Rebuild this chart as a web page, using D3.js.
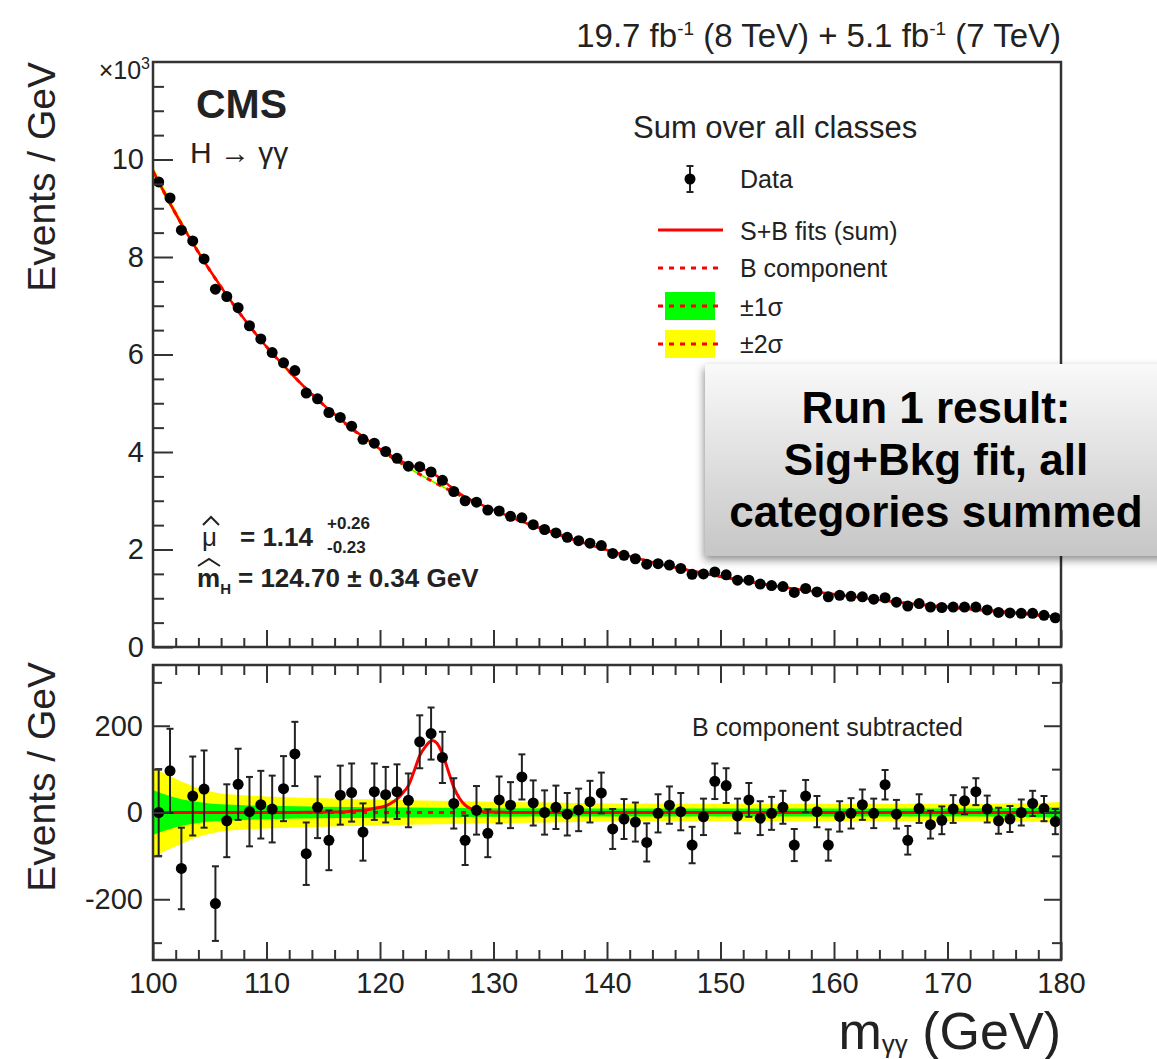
<!DOCTYPE html>
<html>
<head>
<meta charset="utf-8">
<script src="https://cdn.jsdelivr.net/npm/d3@7"></script>
<style>
  body { margin: 0; background: #fff; }
  text { font-family: "Liberation Sans", Arial, Helvetica, sans-serif; fill: #222; }
</style>
</head>
<body>
<svg id="chart" width="1157" height="1059"></svg>
<script>
// bin centres (GeV)
const massBins = [
  100.5, 101.5, 102.5, 103.5, 104.5, 105.5, 106.5, 107.5, 108.5, 109.5,
  110.5, 111.5, 112.5, 113.5, 114.5, 115.5, 116.5, 117.5, 118.5, 119.5,
  120.5, 121.5, 122.5, 123.5, 124.5, 125.5, 126.5, 127.5, 128.5, 129.5,
  130.5, 131.5, 132.5, 133.5, 134.5, 135.5, 136.5, 137.5, 138.5, 139.5,
  140.5, 141.5, 142.5, 143.5, 144.5, 145.5, 146.5, 147.5, 148.5, 149.5,
  150.5, 151.5, 152.5, 153.5, 154.5, 155.5, 156.5, 157.5, 158.5, 159.5,
  160.5, 161.5, 162.5, 163.5, 164.5, 165.5, 166.5, 167.5, 168.5, 169.5,
  170.5, 171.5, 172.5, 173.5, 174.5, 175.5, 176.5, 177.5, 178.5, 179.5
];

// data, events / GeV in units of 10^3
const dataEvents = [
  9.54, 9.21, 8.55, 8.33, 7.96, 7.34, 7.19, 6.96, 6.59, 6.32,
  6.04, 5.83, 5.67, 5.21, 5.09, 4.81, 4.71, 4.53, 4.26, 4.18,
  4.01, 3.87, 3.71, 3.70, 3.59, 3.42, 3.19, 3.00, 2.97, 2.81,
  2.79, 2.68, 2.65, 2.51, 2.41, 2.34, 2.25, 2.18, 2.13, 2.08,
  1.92, 1.88, 1.81, 1.70, 1.71, 1.68, 1.61, 1.49, 1.50, 1.54,
  1.48, 1.37, 1.37, 1.29, 1.26, 1.24, 1.12, 1.20, 1.13, 1.03,
  1.06, 1.04, 1.03, 0.98, 1.01, 0.92, 0.84, 0.89, 0.82, 0.81,
  0.82, 0.82, 0.82, 0.76, 0.71, 0.70, 0.69, 0.69, 0.65, 0.60
];

// data with the B component subtracted, events / GeV
const dataSubtracted = [
  0, 96, -129, 38, 54, -210, -19, 65, 2, 18,
  8, 55, 135, -95, 12, -64, 40, 46, -45, 48,
  41, 48, 28, 163, 182, 127, 21, -64, 5, -48,
  29, 17, 82, 22, 0, 12, -4, 6, 25, 45,
  -38, -15, -22, -69, -2, 17, 2, -75, -10, 72,
  62, -8, 29, -13, -2, 12, -75, 38, 2, -75,
  -9, -2, 18, -2, 64, -4, -64, 9, -28, -18,
  8, 27, 48, 8, -19, -15, 0, 21, 9, -21
];

// statistical error, events / GeV
const dataError = [
  100, 97, 94, 91, 89, 86, 84, 82, 80, 78,
  77, 75, 74, 72, 71, 69, 68, 67, 66, 65,
  64, 63, 62, 61, 60, 59, 58, 57, 56, 55,
  54, 53, 52, 52, 51, 50, 49, 49, 48, 47,
  46, 46, 45, 44, 44, 43, 43, 42, 42, 41,
  40, 40, 39, 39, 38, 38, 37, 37, 36, 36,
  35, 35, 35, 34, 34, 33, 33, 33, 32, 32,
  32, 31, 31, 31, 30, 30, 30, 29, 29, 29
];

// B component of the fit, 10^3 events / GeV
const bkgMass = [100, 102.5, 105, 107.5, 110, 112.5, 115, 117.5, 120, 122.5, 125, 127.5,
  130, 132.5, 135, 137.5, 140, 145, 150, 155, 160, 165, 170, 175, 180];
const bkgFit = [9.76, 8.68, 7.73, 6.89, 6.16, 5.53, 4.97, 4.48, 4.05, 3.68, 3.35, 3.06,
  2.81, 2.57, 2.37, 2.17, 1.99, 1.685, 1.445, 1.245, 1.085, 0.935, 0.82, 0.72, 0.61];

// signal part of the S+B fit, events / GeV
const sigMass = [100, 112, 116, 117, 118, 119, 120, 120.5, 121, 121.5, 122, 122.5, 123, 123.5,
  124, 124.6, 125, 125.5, 126, 126.5, 127, 127.5, 128, 128.5, 129, 130, 132, 180];
const sigFit = [0, 0, 1, 2, 4, 7, 12, 15, 22, 31, 45, 62, 95, 131,
  152, 166, 160, 135, 97, 58, 33, 17, 9, 4, 2, 1, 0, 0];

// half widths of the +-1 sigma and +-2 sigma bands, events / GeV
const bandMass = [100, 101, 102, 103, 104, 105, 106, 108, 110, 115, 120, 125, 130, 135,
  140, 150, 160, 170, 175, 178, 180];
const band1Sigma = [52, 42, 34, 28, 24, 21, 19, 17, 15.5, 13.5, 12, 11, 10, 9.5,
  9, 9, 9, 9.5, 10, 11, 12];
const band2Sigma = [102, 90, 78, 66, 56, 49, 44, 40, 37, 33, 30, 27, 25, 23,
  21, 20, 20, 20, 21, 22, 24];

const xTickLabels = [100, 110, 120, 130, 140, 150, 160, 170, 180];
const yTopTickLabels = [0, 2, 4, 6, 8, 10];
const ySubTickLabels = [-200, 0, 200];

const svg = d3.select("#chart");
const left = 153, right = 1061;
const topPanel = { top: 62, bottom: 647 };
const subPanel = { top: 665, bottom: 960 };

const x = d3.scaleLinear().domain([100, 180]).range([left, right]);
const yTop = d3.scaleLinear().domain([0, 12]).range([topPanel.bottom, topPanel.top]);
const ySub = d3.scaleLinear().domain([-340, 340]).range([subPanel.bottom, subPanel.top]);

const xMinor = d3.range(100, 181, 2).filter(d => d % 10 !== 0);
const yTopMinor = d3.range(0.5, 12, 0.5).filter(d => d % 2 !== 0);
const ySubMinor = [-300, -100, 100, 300];
const plainInt = d => String(d); // ROOT style hyphen minus

const bkgAt = d3.scaleLinear().domain(bkgMass).range(bkgFit);
const sigAt = d3.scaleLinear().domain(sigMass).range(sigFit);
const fitMass = Array.from(new Set(bkgMass.concat(sigMass))).sort((a, b) => a - b);

const defs = svg.append("defs");
defs.append("clipPath").attr("id", "clipTop")
  .append("rect").attr("x", left).attr("y", topPanel.top)
  .attr("width", right - left).attr("height", topPanel.bottom - topPanel.top);
defs.append("clipPath").attr("id", "clipSub")
  .append("rect").attr("x", left).attr("y", subPanel.top)
  .attr("width", right - left).attr("height", subPanel.bottom - subPanel.top);

const grad = defs.append("linearGradient").attr("id", "boxGrad")
  .attr("x1", 0).attr("y1", 0).attr("x2", 0).attr("y2", 1);
grad.append("stop").attr("offset", "0%").attr("stop-color", "#f9f9f9");
grad.append("stop").attr("offset", "100%").attr("stop-color", "#c6c6c6");
const shadow = defs.append("filter").attr("id", "boxShadow")
  .attr("x", "-10%").attr("y", "-10%").attr("width", "130%").attr("height", "140%");
shadow.append("feDropShadow").attr("dx", -1).attr("dy", 4)
  .attr("stdDeviation", 4).attr("flood-color", "#000").attr("flood-opacity", 0.45);

// ---------- top panel ----------
const gTop = svg.append("g").attr("clip-path", "url(#clipTop)");

const topBand = (w) => d3.area()
  .x((d, i) => x(bandMass[i]))
  .y0((d, i) => yTop(bkgAt(bandMass[i]) - w[i] / 1000))
  .y1((d, i) => yTop(bkgAt(bandMass[i]) + w[i] / 1000))
  .curve(d3.curveMonotoneX);
gTop.append("path").datum(bandMass).attr("d", topBand(band2Sigma)).attr("fill", "#ffff00");
gTop.append("path").datum(bandMass).attr("d", topBand(band1Sigma)).attr("fill", "#00ff00");

gTop.append("path").datum(bkgMass)
  .attr("d", d3.line().x((d, i) => x(d)).y((d, i) => yTop(bkgFit[i])).curve(d3.curveMonotoneX))
  .attr("fill", "none").attr("stroke", "#ff0000").attr("stroke-width", 3)
  .attr("stroke-dasharray", "5,6");

gTop.append("path").datum(fitMass)
  .attr("d", d3.line().x(d => x(d)).y(d => yTop(bkgAt(d) + sigAt(d) / 1000)).curve(d3.curveMonotoneX))
  .attr("fill", "none").attr("stroke", "#ff0000").attr("stroke-width", 2.5);

const topPts = gTop.selectAll(".ptTop").data(massBins).enter().append("g").attr("class", "ptTop");
topPts.append("line")
  .attr("x1", d => x(d)).attr("x2", d => x(d))
  .attr("y1", (d, i) => yTop(dataEvents[i] - dataError[i] / 1000))
  .attr("y2", (d, i) => yTop(dataEvents[i] + dataError[i] / 1000))
  .attr("stroke", "#111").attr("stroke-width", 2);
topPts.append("circle")
  .attr("cx", d => x(d)).attr("cy", (d, i) => yTop(dataEvents[i]))
  .attr("r", 5.5).attr("fill", "#000");

// ---------- bottom panel ----------
const gSub = svg.append("g").attr("clip-path", "url(#clipSub)");

const subBand = (w) => d3.area()
  .x((d, i) => x(bandMass[i]))
  .y0((d, i) => ySub(-w[i]))
  .y1((d, i) => ySub(w[i]))
  .curve(d3.curveMonotoneX);
gSub.append("path").datum(bandMass).attr("d", subBand(band2Sigma)).attr("fill", "#ffff00");
gSub.append("path").datum(bandMass).attr("d", subBand(band1Sigma)).attr("fill", "#00ff00");

gSub.append("line")
  .attr("x1", x(100)).attr("x2", x(180)).attr("y1", ySub(0)).attr("y2", ySub(0))
  .attr("stroke", "#ff0000").attr("stroke-width", 3).attr("stroke-dasharray", "5,6");

gSub.append("path").datum(sigMass)
  .attr("d", d3.line().x(d => x(d)).y((d, i) => ySub(sigFit[i])).curve(d3.curveMonotoneX))
  .attr("fill", "none").attr("stroke", "#ff0000").attr("stroke-width", 3);

const subPts = gSub.selectAll(".ptSub").data(massBins).enter().append("g").attr("class", "ptSub");
subPts.append("line")
  .attr("x1", d => x(d)).attr("x2", d => x(d))
  .attr("y1", (d, i) => ySub(dataSubtracted[i] - dataError[i]))
  .attr("y2", (d, i) => ySub(dataSubtracted[i] + dataError[i]))
  .attr("stroke", "#222").attr("stroke-width", 2);
[-1, 1].forEach(s => {
  subPts.append("line")
    .attr("x1", d => x(d) - 3.5).attr("x2", d => x(d) + 3.5)
    .attr("y1", (d, i) => ySub(dataSubtracted[i] + s * dataError[i]))
    .attr("y2", (d, i) => ySub(dataSubtracted[i] + s * dataError[i]))
    .attr("stroke", "#222").attr("stroke-width", 2);
});
subPts.append("circle")
  .attr("cx", d => x(d)).attr("cy", (d, i) => ySub(dataSubtracted[i]))
  .attr("r", 5.5).attr("fill", "#000");

// ---------- axes ----------
function styleAxis(g, fontSize) {
  g.select(".domain").remove();
  g.selectAll(".tick line").attr("stroke", "#333").attr("stroke-width", 2);
  g.selectAll(".tick text").attr("font-size", fontSize)
    .attr("font-family", '"Liberation Sans", Arial, Helvetica, sans-serif').attr("fill", "#222");
}

// top panel
svg.append("g").attr("transform", `translate(0,${topPanel.bottom})`)
  .call(d3.axisBottom(x).tickValues(xTickLabels).tickSize(-17).tickFormat(""))
  .call(g => styleAxis(g, 0));
svg.append("g").attr("transform", `translate(0,${topPanel.bottom})`)
  .call(d3.axisBottom(x).tickValues(xMinor).tickSize(-9).tickFormat(""))
  .call(g => styleAxis(g, 0));
svg.append("g").attr("transform", `translate(${left},0)`)
  .call(d3.axisLeft(yTop).tickValues(yTopTickLabels).tickSize(-20).tickPadding(9).tickFormat(plainInt))
  .call(g => styleAxis(g, 29));
svg.append("g").attr("transform", `translate(${left},0)`)
  .call(d3.axisLeft(yTop).tickValues(yTopMinor).tickSize(-11).tickFormat(""))
  .call(g => styleAxis(g, 0));

// bottom panel
svg.append("g").attr("transform", `translate(0,${subPanel.bottom})`)
  .call(d3.axisBottom(x).tickValues(xTickLabels).tickSize(-18).tickPadding(12).tickFormat(plainInt))
  .call(g => styleAxis(g, 29));
svg.append("g").attr("transform", `translate(0,${subPanel.bottom})`)
  .call(d3.axisBottom(x).tickValues(xMinor).tickSize(-10).tickFormat(""))
  .call(g => styleAxis(g, 0));
svg.append("g").attr("transform", `translate(0,${subPanel.top})`)
  .call(d3.axisTop(x).tickValues(xTickLabels).tickSize(-18).tickFormat(""))
  .call(g => styleAxis(g, 0));
svg.append("g").attr("transform", `translate(0,${subPanel.top})`)
  .call(d3.axisTop(x).tickValues(xMinor).tickSize(-10).tickFormat(""))
  .call(g => styleAxis(g, 0));
svg.append("g").attr("transform", `translate(${left},0)`)
  .call(d3.axisLeft(ySub).tickValues(ySubTickLabels).tickSize(-17).tickPadding(10).tickFormat(plainInt))
  .call(g => styleAxis(g, 29));
svg.append("g").attr("transform", `translate(${left},0)`)
  .call(d3.axisLeft(ySub).tickValues(ySubMinor).tickSize(-9).tickFormat(""))
  .call(g => styleAxis(g, 0));
svg.append("g").attr("transform", `translate(${right},0)`)
  .call(d3.axisRight(ySub).tickValues(ySubTickLabels).tickSize(-17).tickFormat(""))
  .call(g => styleAxis(g, 0));
svg.append("g").attr("transform", `translate(${right},0)`)
  .call(d3.axisRight(ySub).tickValues(ySubMinor).tickSize(-9).tickFormat(""))
  .call(g => styleAxis(g, 0));

// frames
[topPanel, subPanel].forEach(p => {
  svg.append("rect")
    .attr("x", left).attr("y", p.top)
    .attr("width", right - left).attr("height", p.bottom - p.top)
    .attr("fill", "none").attr("stroke", "#333").attr("stroke-width", 2.5);
});

// ---------- texts ----------
const title = svg.append("text").attr("x", right).attr("y", 47)
  .attr("text-anchor", "end").attr("font-size", 33);
title.append("tspan").text("19.7 fb");
title.append("tspan").attr("dy", -12).attr("font-size", 19).text("-1");
title.append("tspan").attr("dy", 12).text(" (8 TeV) + 5.1 fb");
title.append("tspan").attr("dy", -12).attr("font-size", 19).text("-1");
title.append("tspan").attr("dy", 12).text(" (7 TeV)");

const exp = svg.append("text").attr("x", 150).attr("y", 79)
  .attr("text-anchor", "end").attr("font-size", 25);
exp.append("tspan").text("×10");
exp.append("tspan").attr("dy", -10).attr("font-size", 16).text("3");

svg.append("text").attr("transform", "translate(55,62) rotate(-90)")
  .attr("text-anchor", "end").attr("font-size", 39).text("Events / GeV");
svg.append("text").attr("transform", "translate(55,662) rotate(-90)")
  .attr("text-anchor", "end").attr("font-size", 39).text("Events / GeV");

const xTitle = svg.append("text").attr("x", right).attr("y", 1049)
  .attr("text-anchor", "end").attr("font-size", 52);
xTitle.append("tspan").text("m");
xTitle.append("tspan").attr("dy", 4).attr("font-size", 26).text("γγ");
xTitle.append("tspan").attr("dy", -4).text(" (GeV)");

svg.append("text").attr("x", 196).attr("y", 118)
  .attr("font-size", 41).attr("font-weight", "bold").text("CMS");
svg.append("text").attr("x", 190).attr("y", 163)
  .attr("font-size", 30).text("H → γγ");

// fit results
const mu = svg.append("text").attr("x", 202).attr("y", 546).attr("font-size", 26).attr("font-weight", "bold");
mu.append("tspan").attr("font-weight", "normal").text("μ");
mu.append("tspan").attr("x", 240).text("= 1.14");
svg.append("text").attr("x", 327).attr("y", 529).attr("font-size", 17).attr("font-weight", "bold").text("+0.26");
svg.append("text").attr("x", 327).attr("y", 553).attr("font-size", 17).attr("font-weight", "bold").text("-0.23");
svg.append("path").attr("d", "M203,525 L211,517 L219,525")
  .attr("fill", "none").attr("stroke", "#222").attr("stroke-width", 2);

const mh = svg.append("text").attr("x", 197).attr("y", 587).attr("font-size", 26).attr("font-weight", "bold");
mh.append("tspan").text("m");
mh.append("tspan").attr("dy", 7).attr("font-size", 15).text("H");
mh.append("tspan").attr("dy", -7).attr("x", 238).text("= 124.70 ± 0.34 GeV");
svg.append("path").attr("d", "M198,566 L209,559 L220,566")
  .attr("fill", "none").attr("stroke", "#222").attr("stroke-width", 2);

svg.append("text").attr("x", 692).attr("y", 736).attr("font-size", 25).text("B component subtracted");

// ---------- legend ----------
svg.append("text").attr("x", 633).attr("y", 138).attr("font-size", 31).text("Sum over all classes");
const leg = svg.append("g");
leg.append("line").attr("x1", 690).attr("x2", 690).attr("y1", 166).attr("y2", 192)
  .attr("stroke", "#222").attr("stroke-width", 2);
[166, 192].forEach(yy => leg.append("line").attr("x1", 686.5).attr("x2", 693.5)
  .attr("y1", yy).attr("y2", yy).attr("stroke", "#222").attr("stroke-width", 2));
leg.append("circle").attr("cx", 690).attr("cy", 179).attr("r", 5.5).attr("fill", "#000");
leg.append("line").attr("x1", 658).attr("x2", 723).attr("y1", 230).attr("y2", 230)
  .attr("stroke", "#ff0000").attr("stroke-width", 3);
leg.append("line").attr("x1", 658).attr("x2", 723).attr("y1", 268).attr("y2", 268)
  .attr("stroke", "#ff0000").attr("stroke-width", 3).attr("stroke-dasharray", "5,6");
[[292, "#00ff00"], [330, "#ffff00"]].forEach(([yy, c]) => {
  leg.append("rect").attr("x", 665).attr("y", yy).attr("width", 50).attr("height", 28).attr("fill", c);
  leg.append("line").attr("x1", 658).attr("x2", 723).attr("y1", yy + 14).attr("y2", yy + 14)
    .attr("stroke", "#ff0000").attr("stroke-width", 3).attr("stroke-dasharray", "5,6");
});
[["Data", 188], ["S+B fits (sum)", 240], ["B component", 277], ["±1σ", 316], ["±2σ", 353]]
  .forEach(([t, yy]) => leg.append("text").attr("x", 740).attr("y", yy).attr("font-size", 25).text(t));

// ---------- annotation box ----------
svg.append("rect").attr("x", 705).attr("y", 364).attr("width", 480).attr("height", 192)
  .attr("fill", "url(#boxGrad)").attr("filter", "url(#boxShadow)");
[["Run 1 result:", 423], ["Sig+Bkg fit, all", 475], ["categories summed", 527]].forEach(([t, yy]) => {
  svg.append("text").attr("x", 936).attr("y", yy).attr("text-anchor", "middle")
    .attr("font-size", 44).attr("font-weight", "bold").style("fill", "#000").text(t);
});
</script>
</body>
</html>
